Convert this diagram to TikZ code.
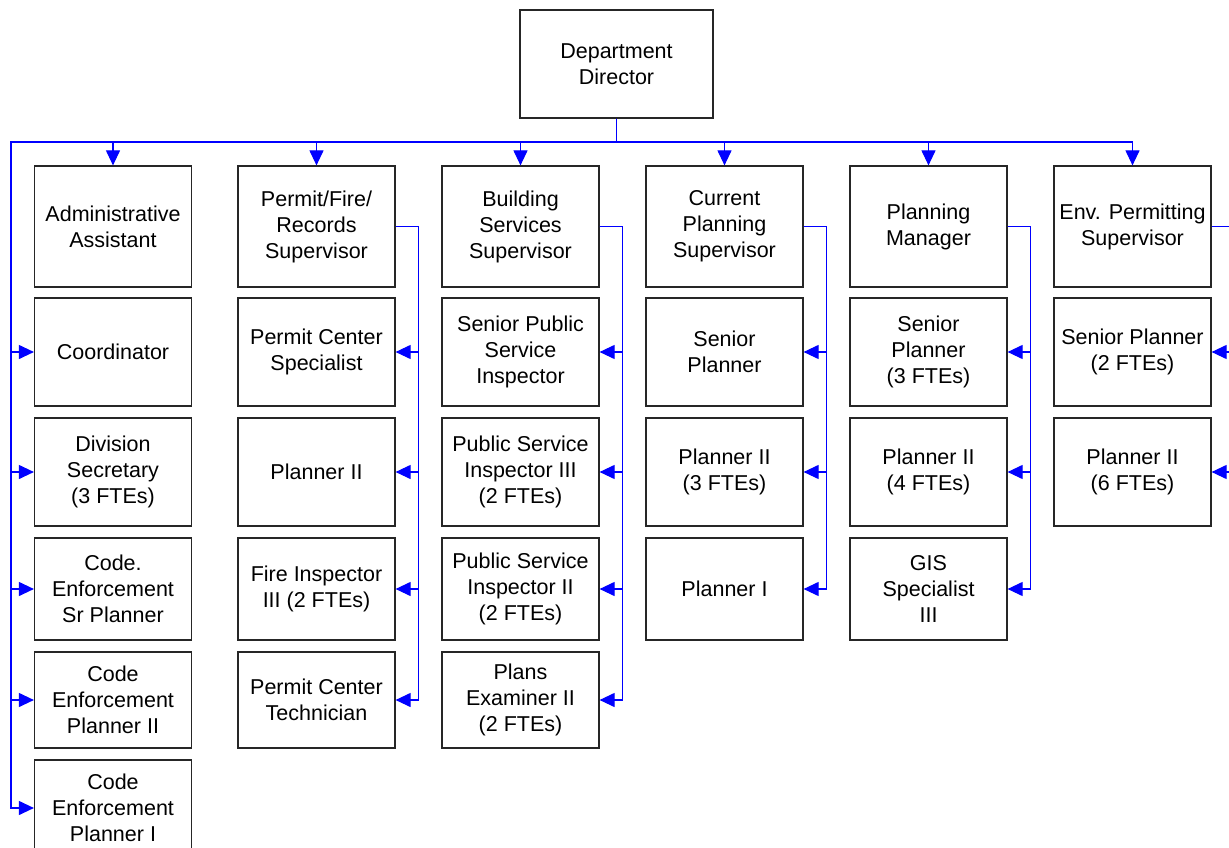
\documentclass[tikz,border=0pt]{standalone}
\usepackage{fontspec}
\setmainfont{Liberation Sans}
\usetikzlibrary{arrows.meta}
\definecolor{linkblue}{RGB}{0,0,255}
\newcommand\orgnode[5]{\node[orgbox, minimum height=#4] (#1) at (#2,#3) {#5};}

\tikzset{
  orgbox/.style={draw=black!85, line width=1.2pt, minimum width=157pt, align=center,
    inner sep=2pt, font=\fontsize{21.5}{26}\selectfont},
  link/.style={draw=linkblue, line width=1.1pt},
  linkarrow/.style={link, -{Triangle[length=15pt,width=14pt]}}
}

\begin{document}
\begin{tikzpicture}[x=1pt, y=-1pt]
      \useasboundingbox (0,0) rectangle (1229,848);
      \clip (0,0) rectangle (1229,848);

      \node[orgbox, minimum width=193pt, minimum height=108pt] (dir) at (616.5,64) {Department\\Director};
      \coordinate (lbus) at (11,142);

      % column 1
      \orgnode{adm}{113}{226.5}{121pt}{Administrative\\Assistant}
      \orgnode{coord}{113}{352}{108pt}{Coordinator}
      \orgnode{divsec}{113}{472}{108pt}{Division\\Secretary\\(3 FTEs)}
      \orgnode{cesr}{113}{589}{102pt}{Code.\\Enforcement\\Sr Planner}
      \orgnode{ce2}{113}{700}{96pt}{Code\\Enforcement\\Planner II}
      \orgnode{ce1}{113}{808}{96pt}{Code\\Enforcement\\Planner I}

      % column 2
      \orgnode{pfr}{316.5}{226.5}{121pt}{Permit/Fire/\\Records\\Supervisor}
      \orgnode{pcs}{316.5}{352}{108pt}{Permit Center\\Specialist}
      \orgnode{pla}{316.5}{472}{108pt}{Planner II}
      \orgnode{fire}{316.5}{589}{102pt}{Fire Inspector\\III (2 FTEs)}
      \orgnode{pct}{316.5}{700}{96pt}{Permit Center\\Technician}

      % column 3
      \orgnode{bss}{520.5}{226.5}{121pt}{Building\\Services\\Supervisor}
      \orgnode{spsi}{520.5}{352}{108pt}{Senior Public\\Service\\Inspector}
      \orgnode{psi3}{520.5}{472}{108pt}{Public Service\\Inspector III\\(2 FTEs)}
      \orgnode{psi2}{520.5}{589}{102pt}{Public Service\\Inspector II\\(2 FTEs)}
      \orgnode{pe2}{520.5}{700}{96pt}{Plans\\Examiner II\\(2 FTEs)}

      % column 4
      \orgnode{cps}{724.5}{226.5}{121pt}{Current\\Planning\\Supervisor}
      \orgnode{spl}{724.5}{352}{108pt}{Senior\\Planner}
      \orgnode{plb}{724.5}{472}{108pt}{Planner II\\(3 FTEs)}
      \orgnode{pli}{724.5}{589}{102pt}{Planner I}

      % column 5
      \orgnode{pm}{928.5}{226.5}{121pt}{Planning\\Manager}
      \orgnode{spc}{928.5}{352}{108pt}{Senior\\Planner\\(3 FTEs)}
      \orgnode{plc}{928.5}{472}{108pt}{Planner II\\(4 FTEs)}
      \orgnode{gis}{928.5}{589}{102pt}{GIS\\Specialist\\III}

      % column 6
      \orgnode{eps}{1132.5}{226.5}{121pt}{Env. Permitting\\Supervisor}
      \orgnode{spd}{1132.5}{352}{108pt}{Senior Planner\\(2 FTEs)}
      \orgnode{pld}{1132.5}{472}{108pt}{Planner II\\(6 FTEs)}

      % director to supervisors
      \draw[linkarrow](dir.south)--(dir.south |- lbus)-|(adm.north);
      \draw[linkarrow](dir.south)--(dir.south |- lbus)-|(pfr.north);
      \draw[linkarrow](dir.south)--(dir.south |- lbus)-|(bss.north);
      \draw[linkarrow](dir.south)--(dir.south |- lbus)-|(cps.north);
      \draw[linkarrow](dir.south)--(dir.south |- lbus)-|(pm.north);
      \draw[linkarrow](dir.south)--(dir.south |- lbus)-|(eps.north);

      % director to column 1 staff
      \draw[linkarrow](dir.south)--(dir.south |- lbus)--(lbus)|-(coord.west);
      \draw[linkarrow](lbus)|-(divsec.west);
      \draw[linkarrow](lbus)|-(cesr.west);
      \draw[linkarrow](lbus)|-(ce2.west);
      \draw[linkarrow](lbus)|-(ce1.west);

      % supervisors to staff
      \draw[linkarrow](pfr.east)--++(23,0)|-(pcs.east);
      \draw[linkarrow](pfr.east)--++(23,0)|-(pla.east);
      \draw[linkarrow](pfr.east)--++(23,0)|-(fire.east);
      \draw[linkarrow](pfr.east)--++(23,0)|-(pct.east);

      \draw[linkarrow](bss.east)--++(23,0)|-(spsi.east);
      \draw[linkarrow](bss.east)--++(23,0)|-(psi3.east);
      \draw[linkarrow](bss.east)--++(23,0)|-(psi2.east);
      \draw[linkarrow](bss.east)--++(23,0)|-(pe2.east);

      \draw[linkarrow](cps.east)--++(23,0)|-(spl.east);
      \draw[linkarrow](cps.east)--++(23,0)|-(plb.east);
      \draw[linkarrow](cps.east)--++(23,0)|-(pli.east);

      \draw[linkarrow](pm.east)--++(23,0)|-(spc.east);
      \draw[linkarrow](pm.east)--++(23,0)|-(plc.east);
      \draw[linkarrow](pm.east)--++(23,0)|-(gis.east);

      \draw[linkarrow](eps.east)--++(23,0)|-(spd.east);
      \draw[linkarrow](eps.east)--++(23,0)|-(pld.east);
    \end{tikzpicture}
\end{document}
